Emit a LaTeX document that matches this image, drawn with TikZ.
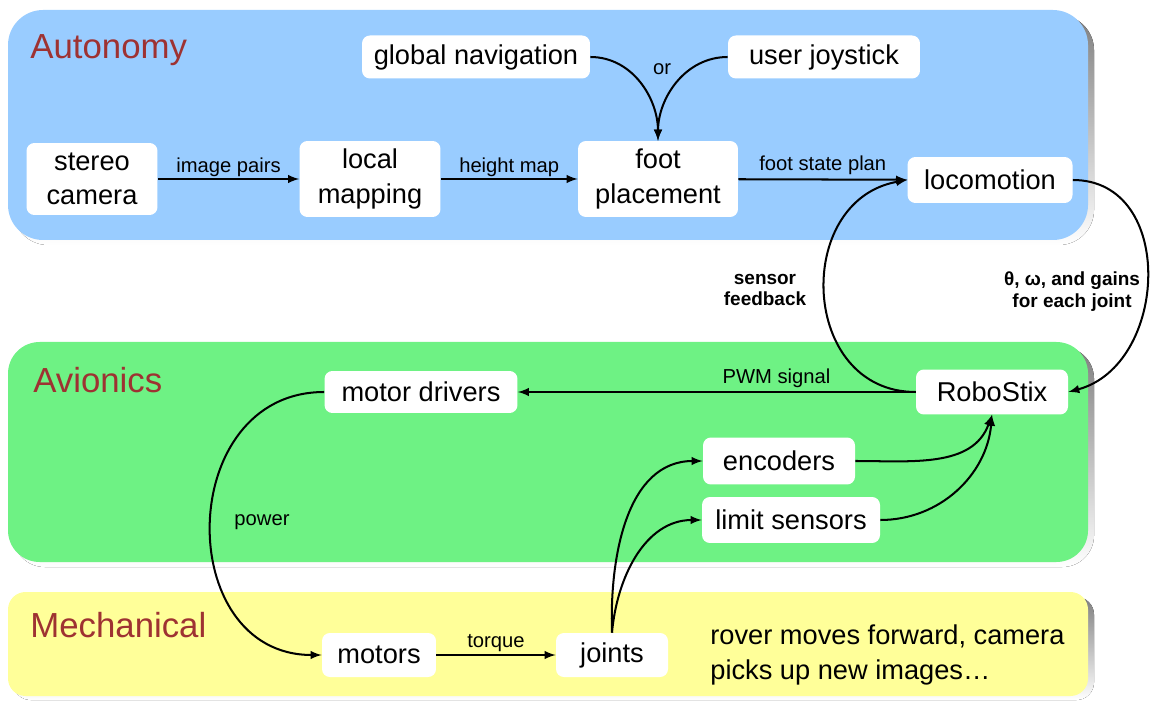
\documentclass[tikz,border=0pt]{standalone}
\usepackage{fontspec}
\setmainfont{Liberation Sans}
\usepackage{tikz}
\usetikzlibrary{arrows,positioning}

\definecolor{autoblue}{RGB}{153,204,255}
\definecolor{aviogreen}{RGB}{110,242,132}
\definecolor{mechyellow}{RGB}{255,255,153}
\definecolor{headred}{RGB}{158,50,50}
\definecolor{shade}{RGB}{128,128,128}

\begin{document}
\begin{tikzpicture}[
  x=0.02cm, y=0.02cm,
  box/.style={fill=white, rounded corners=4.5pt, align=center, inner sep=2pt, font=\fontsize{15.5}{19.5}\selectfont},
  lbl/.style={font=\fontsize{11.5}{13}\selectfont, inner sep=1pt},
  heading/.style={anchor=west, text=headred, inner sep=0pt, font=\fontsize{19.8}{22}\selectfont},
  note/.style={align=center, inner sep=0pt, font=\fontsize{10.8}{12.5}\selectfont\bfseries},
  flow/.style={->, >=latex, line width=1.15pt}
]
\useasboundingbox (0,0) rectangle (1151,700);

% layers with drop shadows
\fill[shade, rounded corners=20pt] (13,455) rectangle (1094,685);
\fill[autoblue, rounded corners=20pt] (8,460) rectangle (1088,690);
\fill[shade, rounded corners=18pt] (13,133) rectangle (1094,353);
\fill[aviogreen, rounded corners=18pt] (8,138) rectangle (1088,358);
\fill[shade, rounded corners=10pt] (13,0) rectangle (1094,103);
\fill[mechyellow, rounded corners=10pt] (8,4) rectangle (1088,108);

\node[heading] (autotitle) at (30,650) {Autonomy};
\node[heading] (aviotitle) at (33,320) {Avionics};
\node[heading] (mechtitle) at (30,75) {Mechanical};

% autonomy
\node[box, minimum width=4.56cm, minimum height=0.86cm] (globnav) at (476,643) {global navigation};
\node[box, minimum width=3.84cm, minimum height=0.86cm] (joystick) at (824,643) {user joystick};
\node[box, minimum width=2.62cm, minimum height=1.44cm] (stereo) at (92,521) {stereo\\camera};
\node[box, minimum width=2.82cm, minimum height=1.52cm] (localmap) at (370,521) {local\\mapping};
\node[box, minimum width=3.2cm, minimum height=1.52cm] (footpl) at (658,521) {foot\\placement};
\node[box, minimum width=3.3cm, minimum height=0.92cm] (loco) at (990,520) {locomotion};

% avionics
\node[box, minimum width=3.86cm, minimum height=0.84cm] (mdrv) at (421,308) {motor drivers};
\node[box, minimum width=3.04cm, minimum height=0.9cm] (robo) at (992,308) {RoboStix};
\node[box, minimum width=3.04cm, minimum height=0.94cm] (enc) at (779,239) {encoders};
\node[box, minimum width=3.56cm, minimum height=0.92cm] (lim) at (791,180) {limit sensors};

% mechanical
\node[box, minimum width=2.28cm, minimum height=0.88cm] (motors) at (379,45) {motors};
\node[box, minimum width=2.24cm, minimum height=0.88cm] (joints) at (612,45) {joints};
\node[anchor=west, align=left, inner sep=0pt, font=\fontsize{15.5}{19.5}\selectfont] (rover) at (710,45) {rover moves forward, camera\\picks up new images\ldots};

% planning chain
\draw[flow] (stereo) -- node[lbl, above=0pt] {image pairs} (localmap);
\draw[flow] (localmap) -- node[lbl, above=0pt] {height map} (footpl);
\draw[flow] (footpl) -- node[lbl, above=1pt] {foot state plan} (loco);
\draw[flow] (globnav.east) to[out=0, in=90] (footpl.north);
\draw[flow] (joystick.west) to[out=180, in=90] (footpl.north);
\node[lbl] (ortext) at (662,631) {or};

% loop between locomotion and RoboStix
\draw[flow] (loco.east) to[out=0, in=15, looseness=1.25] (robo.east);
\draw[flow] (robo.west) to[out=180, in=190, looseness=1.4] (loco.west);
\node[note] (fbtext) at (765,410) {sensor\\feedback};
\node[note] (cmdtext) at (1072,408) {θ, ω, and gains\\for each joint};

% actuation
\draw[flow] (robo) -- node[lbl, pos=0.35, above=1pt] {PWM signal} (mdrv);
\draw[flow] (mdrv.west) to[out=180, in=180, looseness=1.45] (motors.west);
\node[lbl] (powertext) at (262,178) {power};
\draw[flow] (motors) -- node[lbl, above=0.5pt] {torque} (joints);

% sensing
\draw[flow] (joints.north) to[out=92, in=180] (enc.west);
\draw[flow] (joints.north) to[out=85, in=180] (lim.west);
\draw[flow] (enc.east) to[out=0, in=-110] (robo.south);
\draw[flow] (lim.east) to[out=0, in=-95] (robo.south);
\end{tikzpicture}
\end{document}
